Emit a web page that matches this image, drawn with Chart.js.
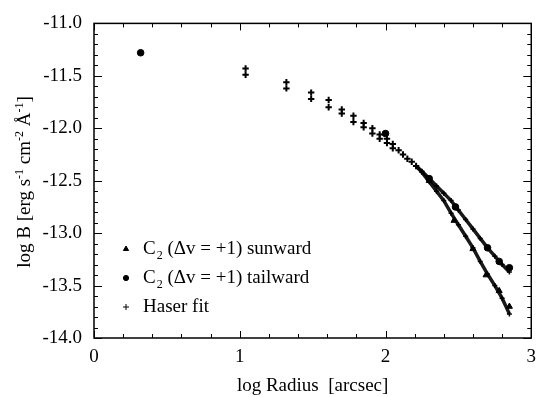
<!DOCTYPE html>
<html lang="en">
<head>
<meta charset="UTF-8">
<title>C2 surface brightness profile</title>
<script src="https://cdn.jsdelivr.net/npm/chart.js"></script>
<style>
    body { margin: 0; background: #fff; }
    #wrap { width: 544px; height: 397px; }
</style>
</head>
<body>
<div id="wrap"><canvas id="chart" width="544" height="397"></canvas></div>
<script>
// values (log radius, log B)
const haserX = [1.04, 1.04, 1.32, 1.32, 1.49, 1.49, 1.61, 1.61, 1.70, 1.70, 1.78, 1.78, 1.85, 1.85,
                1.91, 1.91, 1.96, 1.96, 2.01, 2.01, 2.05, 2.05, 2.09, 2.12, 2.15, 2.18, 2.21];
const haserY = [-11.43, -11.49, -11.56, -11.62, -11.66, -11.72, -11.73, -11.80, -11.82, -11.86, -11.88, -11.94, -11.95, -11.99,
                -12.00, -12.05, -12.06, -12.10, -12.10, -12.14, -12.15, -12.19, -12.21, -12.25, -12.29, -12.32, -12.36];

const fitX = [2.21, 2.25, 2.30, 2.35, 2.40, 2.45, 2.50, 2.55, 2.60, 2.65, 2.70, 2.75, 2.80, 2.85];
const fitTailY = [-12.36, -12.41, -12.48, -12.55, -12.62, -12.69, -12.78, -12.87, -12.96, -13.05, -13.14, -13.22, -13.30, -13.37];
const fitSunY = [-12.36, -12.42, -12.51, -12.60, -12.69, -12.81, -12.92, -13.03, -13.14, -13.27, -13.39, -13.50, -13.62, -13.77];

const tailX = [0.32, 2.00, 2.30, 2.48, 2.70, 2.78, 2.85];
const tailY = [-11.28, -12.05, -12.48, -12.75, -13.14, -13.27, -13.33];

const sunX = [2.30, 2.47, 2.60, 2.69, 2.78, 2.85];
const sunY = [-12.50, -12.88, -13.15, -13.40, -13.55, -13.70];

const xTicks = [0, 1, 2, 3];
const yTicks = [-11.0, -11.5, -12.0, -12.5, -13.0, -13.5, -14.0];

const FONT = '"Liberation Serif", "DejaVu Serif", serif';

function pts(xs, ys) {
    return xs.map((x, i) => ({ x: x, y: ys[i] }));
}

// inward ticks on all four sides plus the frame
const frameTicks = {
    id: 'frameTicks',
    afterDatasetsDraw(chart) {
        const ctx = chart.ctx;
        const a = chart.chartArea;
        const xs = chart.scales.x, ys = chart.scales.y;
        ctx.save();
        ctx.strokeStyle = '#000';
        ctx.lineWidth = 1.5;
        ctx.strokeRect(a.left, a.top, a.right - a.left, a.bottom - a.top);
        ctx.lineWidth = 1;
        ctx.beginPath();
        for (let i = 0; i <= 15; i++) {
            const v = i * 0.2;
            const len = (i % 5 === 0) ? 7 : 4;
            const px = Math.round(xs.getPixelForValue(v)) + 0.5;
            ctx.moveTo(px, a.bottom); ctx.lineTo(px, a.bottom - len);
            ctx.moveTo(px, a.top); ctx.lineTo(px, a.top + len);
        }
        for (let i = 0; i <= 30; i++) {
            const v = -11 - i * 0.1;
            const len = (i % 5 === 0) ? 8 : 4;
            const py = Math.round(ys.getPixelForValue(v)) + 0.5;
            ctx.moveTo(a.left, py); ctx.lineTo(a.left + len, py);
            ctx.moveTo(a.right, py); ctx.lineTo(a.right - len, py);
        }
        ctx.stroke();
        ctx.restore();
    }
};

// y title with superscripts
const yTitle = {
    id: 'yTitle',
    afterDraw(chart) {
        const ctx = chart.ctx;
        const parts = [
            ['log B [erg s', false], ['-1', true], [' cm', false], ['-2', true],
            [' \u00C5', false], ['-1', true], [']', false]
        ];
        const big = '19px ' + FONT, small = '12px ' + FONT;
        ctx.save();
        let total = 0;
        parts.forEach(p => { ctx.font = p[1] ? small : big; total += ctx.measureText(p[0]).width; });
        ctx.translate(30, 182);
        ctx.rotate(-Math.PI / 2);
        ctx.fillStyle = '#000';
        ctx.textBaseline = 'alphabetic';
        let x = -total / 2;
        parts.forEach(p => {
            ctx.font = p[1] ? small : big;
            ctx.fillText(p[0], x, p[1] ? -7 : 0);
            x += ctx.measureText(p[0]).width;
        });
        ctx.restore();
    }
};

// legend inside the plot, C with subscript 2
const innerLegend = {
    id: 'innerLegend',
    afterDraw(chart) {
        const ctx = chart.ctx;
        const rows = [
            { style: 'triangle', text: ' (\u0394v = +1) sunward', sub: true, y: 249 },
            { style: 'circle', text: ' (\u0394v = +1) tailward', sub: true, y: 278 },
            { style: 'cross', text: 'Haser fit', sub: false, y: 307 }
        ];
        ctx.save();
        ctx.fillStyle = '#000';
        ctx.strokeStyle = '#000';
        ctx.textBaseline = 'middle';
        rows.forEach(r => {
            const opts = { pointStyle: r.style, radius: r.style === 'circle' ? 2.6 : 3,
                           borderWidth: r.style === 'cross' ? 1.5 : 1, backgroundColor: '#000', borderColor: '#000' };
            Chart.helpers.drawPoint(ctx, opts, 126, r.y);
            let x = 143;
            ctx.font = '19px ' + FONT;
            if (r.sub) {
                ctx.fillText('C', x, r.y);
                x += ctx.measureText('C').width;
                ctx.font = '12px ' + FONT;
                ctx.fillText('2', x + 1, r.y + 7);
                x += ctx.measureText('2').width + 1;
                ctx.font = '19px ' + FONT;
            }
            ctx.fillText(r.text, x, r.y);
        });
        ctx.restore();
    }
};

const ctx = document.getElementById('chart').getContext('2d');
new Chart(ctx, {
    type: 'scatter',
    data: {
        datasets: [
            {
                label: 'Haser fit (tailward)',
                data: pts(fitX, fitTailY),
                showLine: true,
                borderColor: 'rgba(0,0,0,0.9)',
                borderWidth: 3.5,
                pointStyle: 'cross',
                pointRadius: 2.5,
                pointBorderWidth: 1.5,
                pointBorderColor: '#000'
            },
            {
                label: 'Haser fit (sunward)',
                data: pts(fitX, fitSunY),
                showLine: true,
                borderColor: 'rgba(0,0,0,0.9)',
                borderWidth: 3.5,
                pointStyle: 'cross',
                pointRadius: 2.5,
                pointBorderWidth: 1.5,
                pointBorderColor: '#000'
            },
            {
                label: 'Haser fit',
                data: pts(haserX, haserY),
                pointStyle: 'cross',
                pointRadius: 3.2,
                pointBorderWidth: 2,
                pointBorderColor: '#000'
            },
            {
                label: 'C2 (Δv = +1) tailward',
                data: pts(tailX, tailY),
                pointStyle: 'circle',
                pointRadius: 3.3,
                pointBackgroundColor: '#000',
                pointBorderColor: '#000'
            },
            {
                label: 'C2 (Δv = +1) sunward',
                data: pts(sunX, sunY),
                pointStyle: 'triangle',
                pointRadius: 3.5,
                pointBackgroundColor: '#000',
                pointBorderColor: '#000'
            }
        ]
    },
    options: {
        responsive: false,
        animation: false,
        layout: { padding: { top: 15, right: 6, left: 0, bottom: 0 } },
        plugins: {
            legend: { display: false },
            tooltip: { enabled: false }
        },
        scales: {
            x: {
                type: 'linear',
                min: 0,
                max: 3,
                afterBuildTicks: s => { s.ticks = xTicks.map(v => ({ value: v })); },
                afterFit: s => { s.height = 59; },
                grid: { display: false, drawTicks: false },
                border: { display: false },
                ticks: {
                    color: '#000',
                    padding: 8,
                    maxRotation: 0,
                    font: { family: FONT, size: 19 },
                    callback: v => String(v)
                },
                title: {
                    display: true,
                    text: 'log Radius  [arcsec]',
                    color: '#000',
                    padding: { top: 2, bottom: 0 },
                    font: { family: FONT, size: 19 }
                }
            },
            y: {
                type: 'linear',
                min: -14,
                max: -11,
                afterBuildTicks: s => { s.ticks = yTicks.map(v => ({ value: v })); },
                afterFit: s => { s.width = 94; },
                grid: { display: false, drawTicks: false },
                border: { display: false },
                ticks: {
                    color: '#000',
                    padding: 12,
                    font: { family: FONT, size: 19 },
                    callback: v => v.toFixed(1)
                }
            }
        }
    },
    plugins: [frameTicks, yTitle, innerLegend]
});
</script>
</body>
</html>
